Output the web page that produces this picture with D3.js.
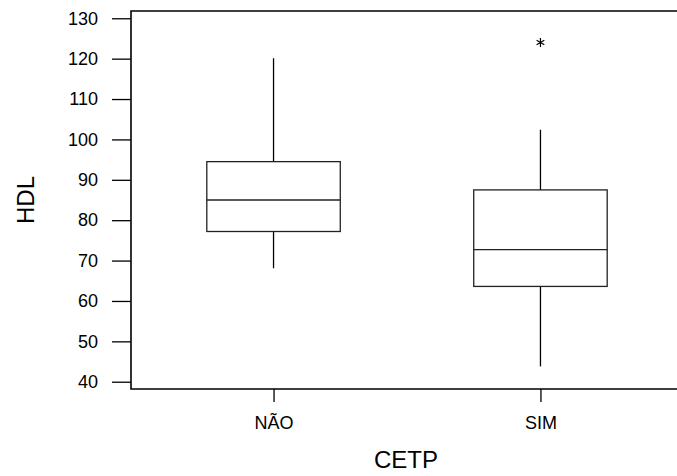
<!DOCTYPE html>
<html>
<head>
<meta charset="utf-8">
<script src="https://cdn.jsdelivr.net/npm/d3@7"></script>
<style>
  body { margin: 0; background: #fff; }
  svg { display: block; font-family: "Liberation Sans", Arial, Helvetica, sans-serif; }
</style>
</head>
<body>
<svg id="chart" width="677" height="476"></svg>
<script>
// groups and box summaries
var categories = ["NÃO", "SIM"];
var whiskerLow = [68.1, 43.8];
var q1 = [77.2, 63.6];
var median = [85.0, 72.7];
var q3 = [94.5, 87.5];
var whiskerHigh = [120.1, 102.4];
var outliers = [[], [124.0]];
var yTicks = [40, 50, 60, 70, 80, 90, 100, 110, 120, 130];

var svg = d3.select("#chart");

var frame = {
    left: 131,
    right: 677,
    top: 11,
    bottom: 389
}

var y = d3.scaleLinear()
    .domain([38.2, 131.8])
    .range([frame.bottom, frame.top]);

// range runs a little past the window edge, like the original
var x = d3.scalePoint()
    .domain(categories)
    .range([frame.left, 683])
    .padding(0.534);

var boxHalf = x.step() * 0.25;

var data = categories.map(function (c, i) {
    return {
        cat: c,
        lo: whiskerLow[i],
        q1: q1[i],
        med: median[i],
        q3: q3[i],
        hi: whiskerHigh[i],
        out: outliers[i]
    };
});

// y axis
var yAxis = svg.append("g")
    .attr("transform", "translate(" + frame.left + ",0)")
    .call(d3.axisLeft(y).tickValues(yTicks).tickSize(19).tickSizeOuter(0).tickPadding(14));
yAxis.select(".domain").remove();
yAxis.selectAll("line").attr("stroke", "#000").attr("stroke-width", 1.3);
yAxis.selectAll("text").style("font-size", "18px").attr("fill", "#000")
    .style("font-family", '"Liberation Sans", Arial, sans-serif');

// x axis
var xAxis = svg.append("g")
    .attr("transform", "translate(0," + frame.bottom + ")")
    .call(d3.axisBottom(x).tickSize(13).tickSizeOuter(0).tickPadding(14));
xAxis.select(".domain").remove();
xAxis.selectAll("line").attr("stroke", "#000").attr("stroke-width", 1.3);
xAxis.selectAll("text").style("font-size", "18px").attr("fill", "#000")
    .style("font-family", '"Liberation Sans", Arial, sans-serif');

// frame: left, top, bottom (no right edge)
svg.append("path")
    .attr("d", "M" + frame.right + "," + frame.top +
        "H" + frame.left + "V" + frame.bottom + "H" + frame.right)
    .attr("fill", "none")
    .attr("stroke", "#000")
    .attr("stroke-width", 1.6);

// boxes
var g = svg.selectAll(".box")
    .data(data)
    .enter().append("g")
    .attr("class", "box");

g.append("line")
    .attr("x1", d => x(d.cat)).attr("x2", d => x(d.cat))
    .attr("y1", d => y(d.q3)).attr("y2", d => y(d.hi))
    .attr("stroke", "#000").attr("stroke-width", 1.3);

g.append("line")
    .attr("x1", d => x(d.cat)).attr("x2", d => x(d.cat))
    .attr("y1", d => y(d.q1)).attr("y2", d => y(d.lo))
    .attr("stroke", "#000").attr("stroke-width", 1.3);

g.append("rect")
    .attr("x", d => x(d.cat) - boxHalf)
    .attr("width", boxHalf * 2)
    .attr("y", d => y(d.q3))
    .attr("height", d => y(d.q1) - y(d.q3))
    .attr("fill", "none")
    .attr("stroke", "#222").attr("stroke-width", 1.3);

g.append("line")
    .attr("x1", d => x(d.cat) - boxHalf).attr("x2", d => x(d.cat) + boxHalf)
    .attr("y1", d => y(d.med)).attr("y2", d => y(d.med))
    .attr("stroke", "#222").attr("stroke-width", 1.3);

// outliers drawn as asterisks
g.selectAll(".out")
    .data(d => d.out.map(v => ({ cat: d.cat, v: v })))
    .enter().append("path")
    .attr("class", "out")
    .attr("transform", d => "translate(" + x(d.cat) + "," + y(d.v) + ")")
    .attr("d", d3.symbol(d3.symbolAsterisk).size(55))
    .attr("fill", "none")
    .attr("stroke", "#000")
    .attr("stroke-width", 1.2);

// axis titles
svg.append("text")
    .attr("transform", "translate(34," + ((frame.top + frame.bottom) / 2) + ") rotate(-90)")
    .attr("text-anchor", "middle")
    .style("font-size", "24px")
    .text("HDL");

svg.append("text")
    .attr("x", 406)
    .attr("y", 468)
    .attr("text-anchor", "middle")
    .style("font-size", "24px")
    .text("CETP");
</script>
</body>
</html>
